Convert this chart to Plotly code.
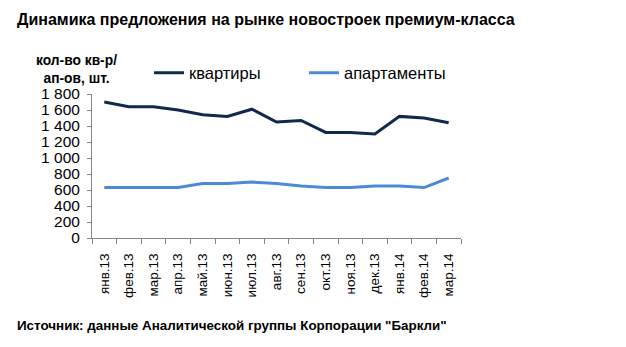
import plotly.graph_objects as go

months = ["янв.13", "фев.13", "мар.13", "апр.13", "май.13", "июн.13", "июл.13",
          "авг.13", "сен.13", "окт.13", "ноя.13", "дек.13", "янв.14", "фев.14", "мар.14"]
flats = [1700, 1640, 1640, 1600, 1540, 1520, 1610, 1450, 1470, 1320, 1320, 1300, 1520, 1500, 1440]
apartments = [630, 630, 630, 630, 680, 680, 700, 680, 650, 630, 630, 650, 650, 630, 750]
y_ticks = [0, 200, 400, 600, 800, 1000, 1200, 1400, 1600, 1800]
y_tick_text = ["0", "200", "400", "600", "800", "1 000", "1 200", "1 400", "1 600", "1 800"]

FONT = "Liberation Sans, Arial, sans-serif"
DARK = "#10294d"
LIGHT = "#4a8ad8"

W, H = 626, 347
L, R, T, B = 92, 165, 94, 109
PW, PH = W - L - R, H - T - B


def px_x(x):
    """Pixel x (from page left) to paper coordinates."""
    return (x - L) / PW


def px_y(y):
    """Pixel y (from page top) to paper coordinates."""
    return (H - B - y) / PH


fig = go.Figure()
fig.add_trace(go.Scatter(x=months, y=flats, mode="lines", name="квартиры",
                         line=dict(color=DARK, width=3), legend="legend"))
fig.add_trace(go.Scatter(x=months, y=apartments, mode="lines", name="апартаменты",
                         line=dict(color=LIGHT, width=3), legend="legend2"))

legend_style = dict(orientation="h", yanchor="middle", xanchor="left",
                    font=dict(size=16.5, family=FONT), bgcolor="rgba(0,0,0,0)")

fig.update_layout(
    width=W, height=H,
    margin=dict(l=L, r=R, t=T, b=B),
    paper_bgcolor="white", plot_bgcolor="white",
    font=dict(family=FONT, color="#000000"),
    showlegend=True,
    legend=dict(x=px_x(149), y=px_y(73), **legend_style),
    legend2=dict(x=px_x(304), y=px_y(73), **legend_style),
    xaxis=dict(type="category", range=[-0.5, 14.5], showgrid=False,
               showline=True, linecolor="#868686", linewidth=1,
               ticks="outside", tickson="boundaries", ticklen=5, tickcolor="#868686",
               tickangle=-90, ticklabelstandoff=9, tickfont=dict(size=13.5, family=FONT)),
    yaxis=dict(range=[0, 1800], tickvals=y_ticks, ticktext=y_tick_text,
               showgrid=False, zeroline=False,
               showline=True, linecolor="#868686", linewidth=1,
               ticks="outside", ticklen=4, tickcolor="#868686", ticklabelstandoff=4,
               tickfont=dict(size=15.5, family=FONT)),
)

fig.add_annotation(text="<b>Динамика предложения на рынке новостроек премиум-класса</b>",
                   xref="paper", yref="paper", x=px_x(15), y=px_y(19),
                   xanchor="left", yanchor="middle", showarrow=False,
                   font=dict(size=16, family=FONT))
fig.add_annotation(text="<b>кол-во кв-р/<br>ап-ов, шт.</b>",
                   xref="paper", yref="paper", x=px_x(76), y=px_y(69),
                   xanchor="center", yanchor="middle", showarrow=False, align="center",
                   font=dict(size=13.8, family=FONT))
fig.add_annotation(text="<b>Источник: данные Аналитической группы Корпорации \"Баркли\"</b>",
                   xref="paper", yref="paper", x=px_x(15), y=px_y(325),
                   xanchor="left", yanchor="middle", showarrow=False,
                   font=dict(size=13.4, family=FONT))

fig.write_html("out.html")
